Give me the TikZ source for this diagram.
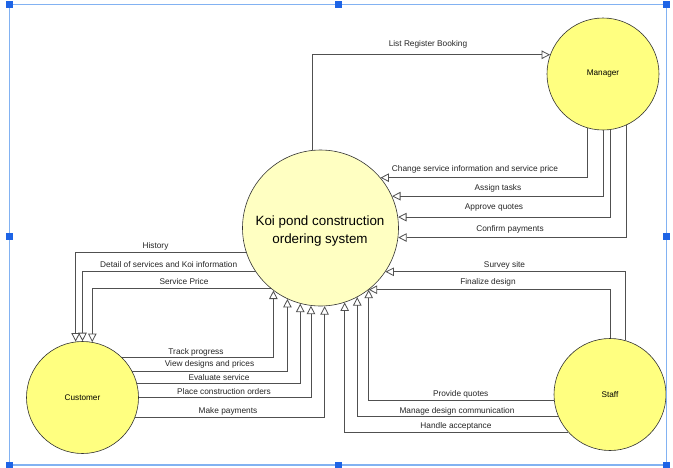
\documentclass[tikz,border=0pt]{standalone}
\usepackage{fontspec}
\setmainfont{Liberation Sans}
\usetikzlibrary{arrows.meta}
\definecolor{actor}{RGB}{255,255,128}
\definecolor{proc}{RGB}{255,255,194}
\definecolor{flow}{RGB}{80,80,80}
\definecolor{selframe}{RGB}{130,178,242}
\definecolor{handle}{RGB}{30,100,230}
\begin{document}
\begin{tikzpicture}[x=1pt,y=-1pt,
 actorc/.style={circle,draw=black!80,line width=0.6pt,fill=actor,minimum size=112pt,inner sep=0pt,font=\fontsize{8.2}{9}\selectfont},
 procc/.style={circle,draw=black!80,line width=0.6pt,fill=proc,minimum size=156pt,inner sep=0pt},
 proctext/.style={align=center,inner sep=0pt,font=\fontsize{13.4}{18}\selectfont},
 flowline/.style={draw=flow,line width=0.8pt,-{Triangle[open,length=8.5pt,width=8.5pt]}},
 lbl/.style={font=\fontsize{8.3}{9}\selectfont,inner sep=0pt,text=black!85}]
\useasboundingbox (0,0) rectangle (673,467);
\fill[white] (0,0) rectangle (673,467);

\node[procc] (main) at (320.5,228) {};
\node[proctext] (maintext) at (320,231) {Koi pond construction\\ordering system};
\node[actorc] (manager) at (603,74) {Manager};
\node[actorc] (customer) at (82.5,397.5) {Customer};
\node[actorc] (staff) at (610,394.5) {Staff};

% main -> manager
\draw[flowline] (main.96) |- (manager.160);
% manager -> main
\draw[flowline] (manager.254.5) |- (main.40.8);
\draw[flowline] (manager.270) |- (main.24.2);
\draw[flowline] (manager.278.2) |- (main.8.85);
\draw[flowline] (manager.294.2) |- (main.353.4);
% main -> customer
\draw[flowline] (main.198.5) -| (customer.97.7);
\draw[flowline] (main.214.1) -| (customer.90.5);
\draw[flowline] (main.231.4) -| (customer.80.2);
% customer -> main
\draw[flowline] (customer.45.6) -| (main.233.4);
\draw[flowline] (customer.28.6) -| (main.245.4);
\draw[flowline] (customer.15) -| (main.255.9);
\draw[flowline] (customer.0) -| (main.263.7);
\draw[flowline] (customer.339.6) -| (main.273.7);
% staff -> main
\draw[flowline] (staff.74.5) |- (main.326.5);
\draw[flowline] (staff.90) |- (main.308.6);
\draw[flowline] (staff.186.4) -| (main.308.9);
\draw[flowline] (staff.203.7) -| (main.298.7);
\draw[flowline] (staff.222) -| (main.288.3);

% labels
\node[lbl] (lList) at (428,44.5) {List Register Booking};
\node[lbl] (lChange) at (475,169.5) {Change service information and service price};
\node[lbl] (lAssign) at (498,188) {Assign tasks};
\node[lbl] (lApprove) at (494,207.5) {Approve quotes};
\node[lbl] (lConfirm) at (510,229) {Confirm payments};
\node[lbl] (lHistory) at (155.5,246.5) {History};
\node[lbl] (lDetail) at (168.7,264.3) {Detail of services and Koi information};
\node[lbl] (lPrice) at (184,281.7) {Service Price};
\node[lbl] (lTrack) at (196,352) {Track progress};
\node[lbl] (lView) at (209.5,364.3) {View designs and prices};
\node[lbl] (lEval) at (219,377.7) {Evaluate service};
\node[lbl] (lPlace) at (224,391.7) {Place construction orders};
\node[lbl] (lPay) at (228,411.3) {Make payments};
\node[lbl] (lSurvey) at (504.5,265) {Survey site};
\node[lbl] (lFinal) at (488,282.3) {Finalize design};
\node[lbl] (lQuotes) at (460.7,394.3) {Provide quotes};
\node[lbl] (lManage) at (457,411.7) {Manage design communication};
\node[lbl] (lHandle) at (456,426.7) {Handle acceptance};

% selection frame
\draw[selframe,line width=1.2pt] (9.5,4.5) rectangle (666.5,465);
\foreach \p in {(9.5,4.5),(338,4.5),(666.5,4.5),(9.5,236),(666.5,236),(9.5,465),(338,465),(666.5,465)}
  \fill[handle] \p ++(-3.5,-3.5) rectangle ++(7,7);
\end{tikzpicture}
\end{document}
